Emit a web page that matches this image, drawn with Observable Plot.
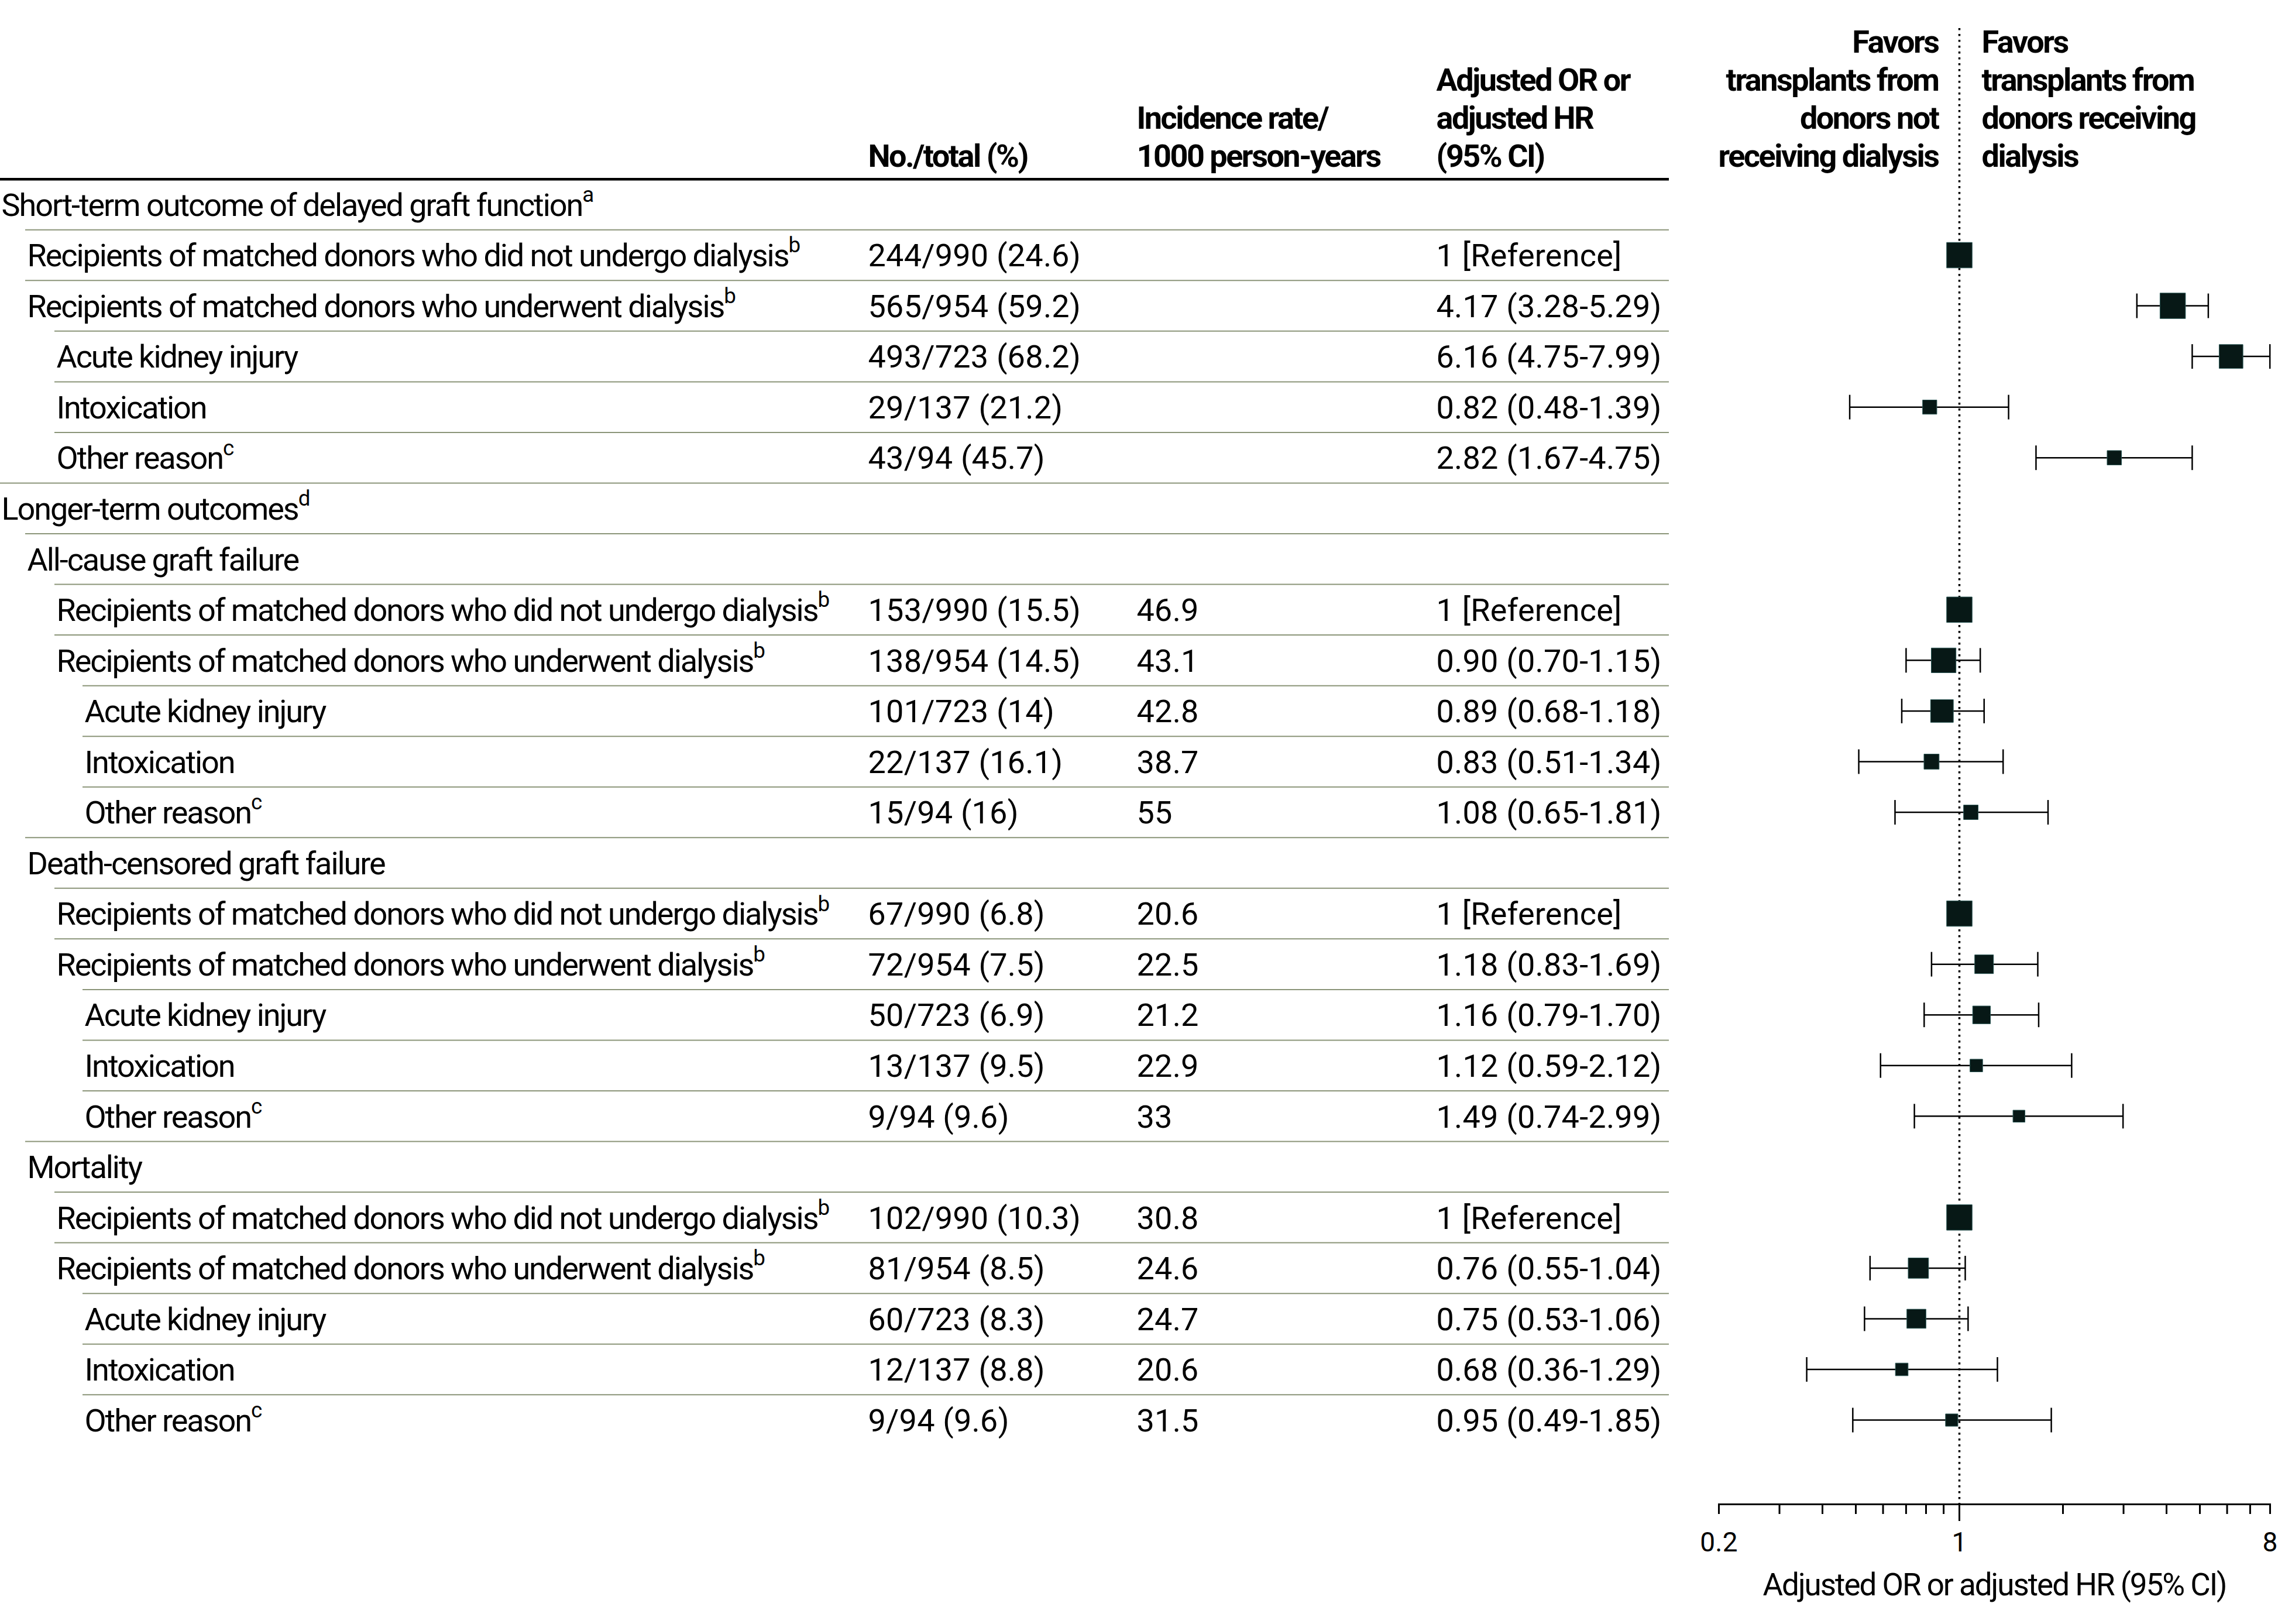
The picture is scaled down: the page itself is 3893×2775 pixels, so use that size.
<!DOCTYPE html>
<html>
<head>
<meta charset="utf-8">
<script src="https://cdn.jsdelivr.net/npm/d3@7"></script>
<script src="https://cdn.jsdelivr.net/npm/@observablehq/plot@0.6"></script>
<style>
  html, body { margin: 0; padding: 0; background: #fff; }
  #chart { position: relative; width: 3893px; height: 2775px; background: #fff; }
  #chart svg { position: absolute; top: 0; }
</style>
</head>
<body>
<div id="chart"></div>
<script>
// ---------------- DATA ----------------
const labels = [
  "Short-term outcome of delayed graft function^a",
  "Recipients of matched donors who did not undergo dialysis^b",
  "Recipients of matched donors who underwent dialysis^b",
  "Acute kidney injury",
  "Intoxication",
  "Other reason^c",
  "Longer-term outcomes^d",
  "All-cause graft failure",
  "Recipients of matched donors who did not undergo dialysis^b",
  "Recipients of matched donors who underwent dialysis^b",
  "Acute kidney injury",
  "Intoxication",
  "Other reason^c",
  "Death-censored graft failure",
  "Recipients of matched donors who did not undergo dialysis^b",
  "Recipients of matched donors who underwent dialysis^b",
  "Acute kidney injury",
  "Intoxication",
  "Other reason^c",
  "Mortality",
  "Recipients of matched donors who did not undergo dialysis^b",
  "Recipients of matched donors who underwent dialysis^b",
  "Acute kidney injury",
  "Intoxication",
  "Other reason^c"
];
const levels = [0, 1, 1, 2, 2, 2, 0, 1, 2, 2, 3, 3, 3, 1, 2, 2, 3, 3, 3, 1, 2, 2, 3, 3, 3];
const counts = [
  "", "244/990 (24.6)", "565/954 (59.2)", "493/723 (68.2)", "29/137 (21.2)", "43/94 (45.7)",
  "", "", "153/990 (15.5)", "138/954 (14.5)", "101/723 (14)", "22/137 (16.1)", "15/94 (16)",
  "", "67/990 (6.8)", "72/954 (7.5)", "50/723 (6.9)", "13/137 (9.5)", "9/94 (9.6)",
  "", "102/990 (10.3)", "81/954 (8.5)", "60/723 (8.3)", "12/137 (8.8)", "9/94 (9.6)"
];
const rates = [
  "", "", "", "", "", "",
  "", "", "46.9", "43.1", "42.8", "38.7", "55",
  "", "20.6", "22.5", "21.2", "22.9", "33",
  "", "30.8", "24.6", "24.7", "20.6", "31.5"
];
const estimates = [null, 1, 4.17, 6.16, 0.82, 2.82, null, null, 1, 0.90, 0.89, 0.83, 1.08, null, 1, 1.18, 1.16, 1.12, 1.49, null, 1, 0.76, 0.75, 0.68, 0.95];
const lower     = [null, null, 3.28, 4.75, 0.48, 1.67, null, null, null, 0.70, 0.68, 0.51, 0.65, null, null, 0.83, 0.79, 0.59, 0.74, null, null, 0.55, 0.53, 0.36, 0.49];
const upper     = [null, null, 5.29, 7.99, 1.39, 4.75, null, null, null, 1.15, 1.18, 1.34, 1.81, null, null, 1.69, 1.70, 2.12, 2.99, null, null, 1.04, 1.06, 1.29, 1.85];

const columnHeaders = ["No./total (%)", "Incidence rate/\n1000 person-years", "Adjusted OR or\nadjusted HR\n(95% CI)"];
const favorsLabels = ["Favors\ntransplants from\ndonors not\nreceiving dialysis", "Favors\ntransplants from\ndonors receiving\ndialysis"];
const axisTicks = [0.2, 0.3, 0.4, 0.5, 0.6, 0.7, 0.8, 0.9, 1, 2, 3, 4, 5, 6, 7, 8];
const labeledTicks = [0.2, 1, 8];
const axisTitle = "Adjusted OR or adjusted HR (95% CI)";

// ---------------- TABLE BUILT FROM ARRAYS ----------------
const rows = labels.map((label, i) => {
  const est = estimates[i], lo = lower[i], hi = upper[i];
  return {
    i, label, level: levels[i], count: counts[i], rate: rates[i], est, lo, hi,
    ci: est == null ? "" : lo == null ? `${est} [Reference]` : `${est.toFixed(2)} (${lo.toFixed(2)}-${hi.toFixed(2)})`,
    prec: lo == null ? null : 2 * 1.96 / Math.log(hi / lo) // precision of the estimate (1/SE)
  };
});
const maxPrec = d3.max(rows, d => d.prec);
rows.forEach(d => { if (d.est != null && d.prec == null) d.prec = maxPrec; });
const estRows = rows.filter(d => d.est != null);
const ciRows = rows.filter(d => d.lo != null);

// ---------------- LAYOUT / STYLE ----------------
const W = 3893, H = 2775, TABLE_W = 2852, FOREST_W = W - TABLE_W;
const FS = 54;
const Y_RANGE = [305.7, 2469.3];
const TEXT_X = [2, 46, 96, 144];
const RULE_X = [0, 43, 93, 141];
const COL_X = [1483, 1942, 2454];
const RULE_COLOR = "#8b9579";
const INK = "#000";
const LINE_H = 65 / FS;

const ctx = document.createElement("canvas").getContext("2d");
function spacing(font, str, target) { ctx.font = font; return (target - ctx.measureText(str).width) / str.length / FS; }
const lsReg = spacing(`${FS}px Roboto`, "Recipients of matched donors who did not undergo dialysis", 1301);
const lsBold = spacing(`bold ${FS}px Roboto`, "receiving dialysis", 376);
const lsNum = spacing(`${FS}px Roboto`, "4.17 (3.28-5.29)", 385);

const baseStyle = {fontFamily: "Roboto, 'Open Sans', sans-serif", fontSize: `${FS}px`, color: INK, background: "transparent", overflow: "visible"};
const yScale = {domain: [-0.5, labels.length - 0.5], range: Y_RANGE, axis: null};
const NUM = "tabular-nums"; // marks numeric text groups (tracked like the figures)

// ---------------- TABLE PLOT ----------------
const tableMarks = [Plot.ruleY([-0.5], {stroke: INK, strokeWidth: 4.5})];
[0, 1, 2, 3].forEach(l => {
  tableMarks.push(Plot.ruleY(rows.filter(d => d.i > 0 && d.level === l), {y: d => d.i - 0.5, insetLeft: RULE_X[l], stroke: RULE_COLOR, strokeWidth: 2}));
  tableMarks.push(Plot.text(rows.filter(d => d.level === l), {y: "i", text: "label", frameAnchor: "left", textAnchor: "start", dx: TEXT_X[l], dy: 2}));
});
["count", "rate", "ci"].forEach((key, k) => {
  tableMarks.push(Plot.text(rows.filter(d => d[key] !== ""), {y: "i", text: key, frameAnchor: "left", textAnchor: "start", dx: COL_X[k], dy: 2, fontVariant: NUM}));
  tableMarks.push(Plot.text([columnHeaders[k]], {y: () => -0.5, text: d => d, frameAnchor: "left", textAnchor: "start", dx: COL_X[k], dy: -21, lineAnchor: "bottom", lineHeight: LINE_H, fontWeight: "bold"}));
});

const table = Plot.plot({
  width: TABLE_W, height: H, margin: 0,
  y: yScale,
  style: baseStyle,
  marks: tableMarks
});

// ---------------- FOREST PLOT ----------------
const capSymbol = {draw(context) { context.moveTo(0, -21); context.lineTo(0, 21); }};
const forest = Plot.plot({
  width: FOREST_W, height: H,
  marginLeft: 85, marginRight: 14, marginTop: 48, marginBottom: 205,
  x: {type: "log", domain: [0.2, 8], label: null},
  y: yScale,
  r: {type: "linear", domain: [0, maxPrec], range: [8.5 / Math.sqrt(Math.PI), 43.5 / Math.sqrt(Math.PI)]},
  style: baseStyle,
  marks: [
    Plot.ruleX([1], {stroke: INK, strokeWidth: 3.5, strokeDasharray: "3.5,6.5"}),
    Plot.frame({anchor: "bottom", stroke: INK, strokeWidth: 3}),
    Plot.axisX({ticks: axisTicks.filter(d => d !== 1), tickSize: 17, strokeWidth: 3, label: null, tickFormat: () => ""}),
    Plot.axisX({ticks: [1], tickSize: 29, strokeWidth: 3, label: null, tickFormat: () => ""}),
    Plot.text(labeledTicks, {x: d => d, text: d => String(d), frameAnchor: "bottom", lineAnchor: "top", dy: 48, fontSize: 46, fontVariant: NUM}),
    Plot.text([axisTitle], {frameAnchor: "bottom", lineAnchor: "bottom", dy: 155, fontSize: 53, text: d => d}),
    Plot.text([favorsLabels[0]], {x: () => 1, y: () => -0.5, text: d => d, textAnchor: "end", dx: -36, dy: -21, lineAnchor: "bottom", lineHeight: LINE_H, fontWeight: "bold"}),
    Plot.text([favorsLabels[1]], {x: () => 1, y: () => -0.5, text: d => d, textAnchor: "start", dx: 38, dy: -21, lineAnchor: "bottom", lineHeight: LINE_H, fontWeight: "bold"}),
    Plot.ruleY(ciRows, {x1: "lo", x2: "hi", y: "i", stroke: INK, strokeWidth: 2.5}),
    Plot.dot(ciRows, {x: "lo", y: "i", symbol: capSymbol, stroke: INK, fill: "none", strokeWidth: 2.5}),
    Plot.dot(ciRows, {x: "hi", y: "i", symbol: capSymbol, stroke: INK, fill: "none", strokeWidth: 2.5}),
    Plot.dot(estRows, {x: "est", y: "i", r: "prec", symbol: "square", fill: "#071816", stroke: "#2c5856", strokeWidth: 1})
  ]
});

// ---------------- TEXT FINISHING (superscripts, tracking) ----------------
const svgNS = "http://www.w3.org/2000/svg";
function finish(svg) {
  svg.querySelectorAll("text").forEach(t => {
    const bold = t.closest('[font-weight="bold"]');
    const num = t.closest('[font-variant]');
    t.style.letterSpacing = `${bold ? lsBold : num ? lsNum : lsReg}em`;
    if (t.children.length === 0) {
      const s = t.textContent, k = s.indexOf("^");
      if (k >= 0) {
        t.textContent = s.slice(0, k);
        const sp = document.createElementNS(svgNS, "tspan");
        sp.setAttribute("font-size", "0.68em");
        sp.setAttribute("dy", "-0.65em");
        sp.textContent = s.slice(k + 1);
        t.appendChild(sp);
      }
    }
  });
  return svg;
}
finish(table); finish(forest);
table.style.left = "0px";
forest.style.left = `${TABLE_W}px`;
const chart = document.getElementById("chart");
chart.appendChild(table);
chart.appendChild(forest);
</script>
</body>
</html>
